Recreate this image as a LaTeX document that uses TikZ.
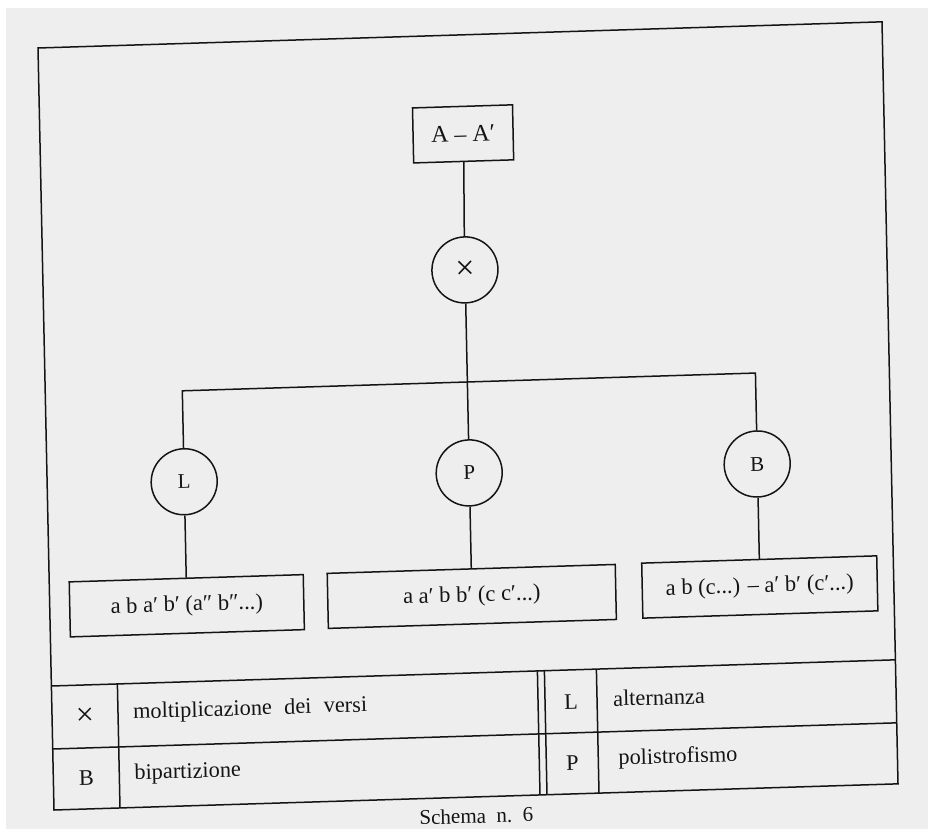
\documentclass[tikz,border=0pt]{standalone}
\usepackage{fontspec}
\setmainfont{Liberation Serif}
\definecolor{paper}{HTML}{EEEEEE}
\definecolor{ink}{HTML}{141414}
\newcommand\myp{′}
\newcommand\mypp{″}
\begin{document}
\begin{tikzpicture}[x=1pt,y=1pt,
  ln/.style={draw=ink,line width=1.5pt},
  circnode/.style={circle,draw=ink,line width=1.5pt,minimum size=66pt,inner sep=0pt,text=ink,font=\fontsize{21}{24}\selectfont},
  boxnode/.style={rectangle,draw=ink,line width=1.5pt,minimum height=55pt,inner sep=0pt,text=ink,font=\fontsize{22.5}{26}\selectfont},
  legtext/.style={anchor=west,inner sep=0pt,text=ink,font=\fontsize{22.3}{26}\selectfont},
  legsym/.style={inner sep=0pt,text=ink,font=\fontsize{22.3}{26}\selectfont}]
\useasboundingbox (0,0) rectangle (928,-829);
\fill[white] (0,0) rectangle (928,-829);
\fill[paper] (6,-8) rectangle (928,-829);
\begin{scope}[cm={1,0.031,-0.021,1,(38,-48)},every node/.append style={transform shape}]
  % outer frame
  \draw[ln] (0,0) rectangle (844,-762);
  % tree
  \node[boxnode,minimum width=100pt,font=\fontsize{24}{28}\selectfont] (top) at (423,-99) {A – A\myp};
  \node[circnode,font=\fontsize{34}{34}\selectfont] (mul) at (422,-235) {×};
  \node[circnode] (L) at (137,-438) {L};
  \node[circnode] (P) at (422,-438) {P};
  \node[circnode] (B) at (710,-438) {B};
  \coordinate (barl) at (137,-347);
  \coordinate (barr) at (710,-347);
  \node[boxnode,minimum width=234pt] (b1) at (137,-562) {a b a\myp{} b\myp{} (a\mypp{} b\mypp{}...)};
  \node[boxnode,minimum width=288pt] (b2) at (422,-561.5) {a a\myp{} b b\myp{} (c c\myp{}...)};
  \node[boxnode,minimum width=235pt] (b3) at (710,-561) {a b (c...) – a\myp{} b\myp{} (c\myp{}...)};
  \draw[ln] (top.south) -- (mul.north);
  \draw[ln] (mul.south) -- (P.north);
  \draw[ln] (L.north) -- (barl) -- (barr) -- (B.north);
  \draw[ln] (L.south) -- (b1.north);
  \draw[ln] (P.south) -- (b2.north);
  \draw[ln] (B.south) -- (b3.north);
  % legend
  \draw[ln] (0,-638) -- (844,-638);
  \draw[ln] (0,-701) -- (844,-701);
  \draw[ln] (66,-638) -- (66,-762);
  \draw[ln] (486,-638) -- (486,-762);
  \draw[ln] (493,-638) -- (493,-762);
  \draw[ln] (545,-638) -- (545,-762);
  \node[legsym,font=\fontsize{32}{32}\selectfont] (sx) at (33,-670) {×};
  \node[legtext] (tx) at (81,-668) {moltiplicazione\hspace{0.55em}dei\hspace{0.55em}versi};
  \node[legsym] (sb) at (33,-731) {B};
  \node[legtext] (tb) at (81,-729) {bipartizione};
  \node[legsym] (sl) at (519,-670) {L};
  \node[legtext] (tl) at (561,-668) {alternanza};
  \node[legsym] (sp) at (519,-731) {P};
  \node[legtext] (tp) at (565,-729) {polistrofismo};
  % caption
  \node[inner sep=0pt,text=ink,font=\fontsize{21}{24}\selectfont] (cap) at (422,-781) {Schema\hspace{0.5em}n.\hspace{0.5em}6};
\end{scope}
\end{tikzpicture}
\end{document}
